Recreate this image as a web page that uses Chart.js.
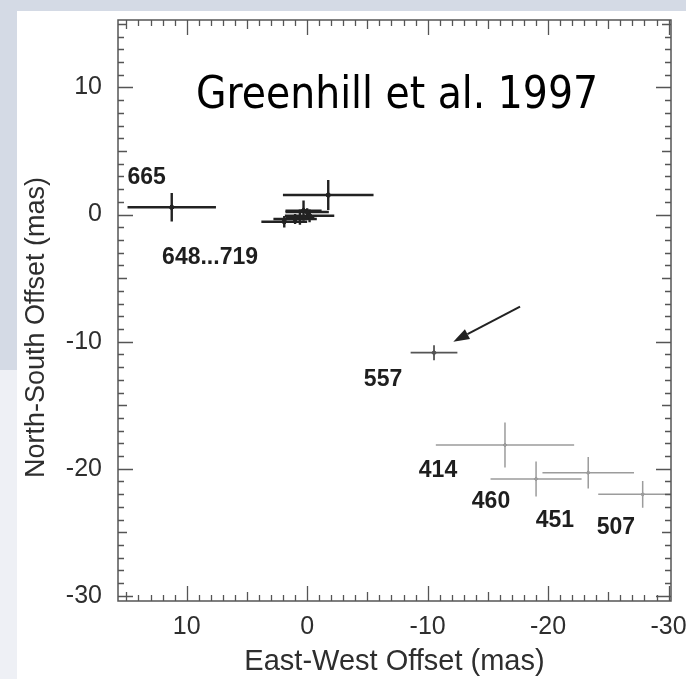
<!DOCTYPE html>
<html><head><meta charset="utf-8">
<script src="https://cdn.jsdelivr.net/npm/chart.js@4/dist/chart.umd.min.js"></script>
<style>html,body{margin:0;padding:0;background:#fff;}#wrap{width:686px;height:679px;position:relative;}</style>
</head><body><div id="wrap"><canvas id="c" width="686" height="679"></canvas></div>
<script>
// ---- data (mas) ----
const darkEW     = [11.24, 1.9, 1.0, 0.3, -0.2, 0.6, 0.0, -1.75];
const darkNS     = [0.57, -0.57, -0.35, 0.3, -0.1, -0.2, 0.2, 1.53];
const darkEWErr  = [3.67, 1.9, 1.8, 1.5, 2.05, 1.2, 1.8, 3.76];
const darkNSErr  = [1.12, 0.45, 0.4, 0.8, 0.5, 0.6, 0.3, 1.18];
const midEW      = [-10.53];
const midNS      = [-10.87];
const midEWErr   = [1.94];
const midNSErr   = [0.59];
const lightEW    = [-16.42, -19.0, -23.33, -27.85];
const lightNS    = [-18.13, -20.8, -20.31, -22.01];
const lightEWErr = [5.74, 3.78, 3.8, 3.69];
const lightNSErr = [1.77, 1.38, 1.24, 1.05];
const epochLabels  = ['665', '648...719', '557', '414', '460', '451', '507'];
const epochLabelEW = [13.32, 8.06, -6.3, -10.86, -15.26, -20.57, -25.63];
const epochLabelNS = [2.91, -3.38, -13.02, -20.18, -22.61, -24.11, -24.66];
const arrowFrom = [-17.67, -7.25];
const arrowTo   = [-12.13, -10.0];
const xTickValues = [10, 0, -10, -20, -30];
const yTickValues = [10, 0, -10, -20, -30];
const xMin = -30.2, xMax = 15.7, yMin = -30.4, yMax = 15.3;
const titleText = 'Greenhill et al. 1997';
const xTitle = 'East-West Offset (mas)';
const yTitle = 'North-South Offset (mas)';

const pts = (xs, ys) => xs.map((x, i) => ({x: x, y: ys[i]}));
const FONT = '"Liberation Sans", Arial, Helvetica, sans-serif';

const bgPlugin = {
  id: 'bg',
  beforeDraw(chart) {
    const ctx = chart.ctx;
    ctx.save();
    ctx.fillStyle = '#ffffff';
    ctx.fillRect(0, 0, chart.width, chart.height);
    ctx.fillStyle = '#d4dae5';
    ctx.fillRect(0, 0, chart.width, 11);
    ctx.fillRect(0, 0, 17, 370);
    ctx.fillStyle = '#eef0f5';
    ctx.fillRect(0, 370, 17, chart.height - 370);
    ctx.restore();
  }
};

const errPlugin = {
  id: 'errbars',
  beforeDatasetsDraw(chart) {
    const ctx = chart.ctx, xs = chart.scales.x, ys = chart.scales.y, a = chart.chartArea;
    ctx.save();
    ctx.beginPath();
    ctx.rect(a.left, a.top, a.right - a.left, a.bottom - a.top);
    ctx.clip();
    chart.data.datasets.forEach(ds => {
      ctx.strokeStyle = ds.borderColor;
      ctx.lineWidth = ds.errWidth;
      ds.data.forEach((p, i) => {
        const ex = ds.xErr[i], ey = ds.yErr[i];
        const px = xs.getPixelForValue(p.x), py = ys.getPixelForValue(p.y);
        ctx.beginPath();
        ctx.moveTo(xs.getPixelForValue(p.x - ex), py);
        ctx.lineTo(xs.getPixelForValue(p.x + ex), py);
        ctx.moveTo(px, ys.getPixelForValue(p.y - ey));
        ctx.lineTo(px, ys.getPixelForValue(p.y + ey));
        ctx.stroke();
      });
    });
    ctx.restore();
  }
};

const framePlugin = {
  id: 'frame',
  afterDatasetsDraw(chart) {
    const ctx = chart.ctx, xs = chart.scales.x, ys = chart.scales.y, a = chart.chartArea;
    ctx.save();
    ctx.strokeStyle = '#555';
    ctx.lineWidth = 1.5;
    ctx.strokeRect(a.left, a.top, a.right - a.left, a.bottom - a.top);
    ctx.lineWidth = 1.3;
    ctx.beginPath();
    for (let v = Math.ceil(xMin); v <= Math.floor(xMax); v++) {
      const len = v % 10 === 0 ? 15 : (v % 5 === 0 ? 9 : 6);
      const px = Math.round(xs.getPixelForValue(v)) + 0.5;
      ctx.moveTo(px, a.bottom); ctx.lineTo(px, a.bottom - len);
      ctx.moveTo(px, a.top); ctx.lineTo(px, a.top + len);
    }
    for (let v = Math.ceil(yMin); v <= Math.floor(yMax); v++) {
      const len = v % 10 === 0 ? 15 : (v % 5 === 0 ? 9 : 6);
      const py = Math.round(ys.getPixelForValue(v)) + 0.5;
      ctx.moveTo(a.left, py); ctx.lineTo(a.left + len, py);
      ctx.moveTo(a.right, py); ctx.lineTo(a.right - len, py);
    }
    ctx.stroke();
    ctx.restore();
  }
};

const annPlugin = {
  id: 'ann',
  afterDraw(chart) {
    const ctx = chart.ctx, xs = chart.scales.x, ys = chart.scales.y, a = chart.chartArea;
    ctx.save();
    // epoch labels
    ctx.fillStyle = '#1e1e1e';
    ctx.font = 'bold 23px ' + FONT;
    ctx.textAlign = 'center';
    ctx.textBaseline = 'middle';
    epochLabels.forEach((t, i) => {
      ctx.fillText(t, xs.getPixelForValue(epochLabelEW[i]), ys.getPixelForValue(epochLabelNS[i]));
    });
    // arrow
    const x0 = xs.getPixelForValue(arrowFrom[0]), y0 = ys.getPixelForValue(arrowFrom[1]);
    const x1 = xs.getPixelForValue(arrowTo[0]), y1 = ys.getPixelForValue(arrowTo[1]);
    const ang = Math.atan2(y1 - y0, x1 - x0);
    const hl = 16, hw = 5.5;
    ctx.strokeStyle = '#222';
    ctx.lineWidth = 2;
    ctx.beginPath();
    ctx.moveTo(x0, y0);
    ctx.lineTo(x1 - hl * Math.cos(ang), y1 - hl * Math.sin(ang));
    ctx.stroke();
    ctx.beginPath();
    ctx.moveTo(x1, y1);
    ctx.lineTo(x1 - hl * Math.cos(ang) + hw * Math.sin(ang), y1 - hl * Math.sin(ang) - hw * Math.cos(ang));
    ctx.lineTo(x1 - hl * Math.cos(ang) - hw * Math.sin(ang), y1 - hl * Math.sin(ang) + hw * Math.cos(ang));
    ctx.closePath();
    ctx.fillStyle = '#222';
    ctx.fill();
    // title inside plot
    ctx.fillStyle = '#000';
    ctx.font = '44px "DejaVu Sans Condensed", "DejaVu Sans", sans-serif';
    ctx.textAlign = 'left';
    ctx.textBaseline = 'alphabetic';
    ctx.fillText(titleText, a.left + 78, a.top + 88, 402);
    // y axis title
    ctx.translate(37, (a.top + a.bottom) / 2 + 17);
    ctx.rotate(-Math.PI / 2);
    ctx.fillStyle = '#2e2e2e';
    ctx.font = '27px ' + FONT;
    ctx.textAlign = 'center';
    ctx.textBaseline = 'middle';
    ctx.fillText(yTitle, 0, 0);
    ctx.restore();
  }
};

new Chart(document.getElementById('c'), {
  type: 'scatter',
  data: {
    datasets: [
      {label: '665, 648...719', data: pts(darkEW, darkNS), xErr: darkEWErr, yErr: darkNSErr,
       borderColor: '#222', backgroundColor: '#222', errWidth: 2.4, pointRadius: 3, pointStyle: 'rectRot'},
      {label: '557', data: pts(midEW, midNS), xErr: midEWErr, yErr: midNSErr,
       borderColor: '#555', backgroundColor: '#555', errWidth: 1.8, pointRadius: 2.5, pointStyle: 'rectRot'},
      {label: '414, 460, 451, 507', data: pts(lightEW, lightNS), xErr: lightEWErr, yErr: lightNSErr,
       borderColor: '#9c9c9c', backgroundColor: '#9c9c9c', errWidth: 1.5, pointRadius: 2, pointStyle: 'rectRot'}
    ]
  },
  options: {
    responsive: false,
    animation: false,
    events: [],
    layout: {padding: {left: 0, top: 20, right: 15, bottom: 0}},
    plugins: {legend: {display: false}, tooltip: {enabled: false}},
    scales: {
      x: {
        type: 'linear', reverse: true, min: xMin, max: xMax,
        grid: {display: false, drawTicks: false}, border: {display: false},
        ticks: {color: '#2e2e2e', padding: 11, font: {family: FONT, size: 25}},
        afterBuildTicks: s => { s.ticks = xTickValues.map(v => ({value: v})); },
        afterFit: s => { s.height = 78; s.paddingLeft = 0; s.paddingRight = 0; },
        title: {display: true, text: xTitle, color: '#2e2e2e', padding: {top: 0, bottom: 0},
                font: {family: FONT, size: 29, lineHeight: 1.2}}
      },
      y: {
        type: 'linear', min: yMin, max: yMax,
        grid: {display: false, drawTicks: false}, border: {display: false},
        ticks: {color: '#2e2e2e', padding: 16, font: {family: FONT, size: 25}},
        afterBuildTicks: s => { s.ticks = yTickValues.map(v => ({value: v})); },
        afterFit: s => { s.width = 118; s.paddingTop = 0; s.paddingBottom = 0; },
        title: {display: false, text: yTitle}
      }
    }
  },
  plugins: [bgPlugin, errPlugin, framePlugin, annPlugin]
});
</script></body></html>
